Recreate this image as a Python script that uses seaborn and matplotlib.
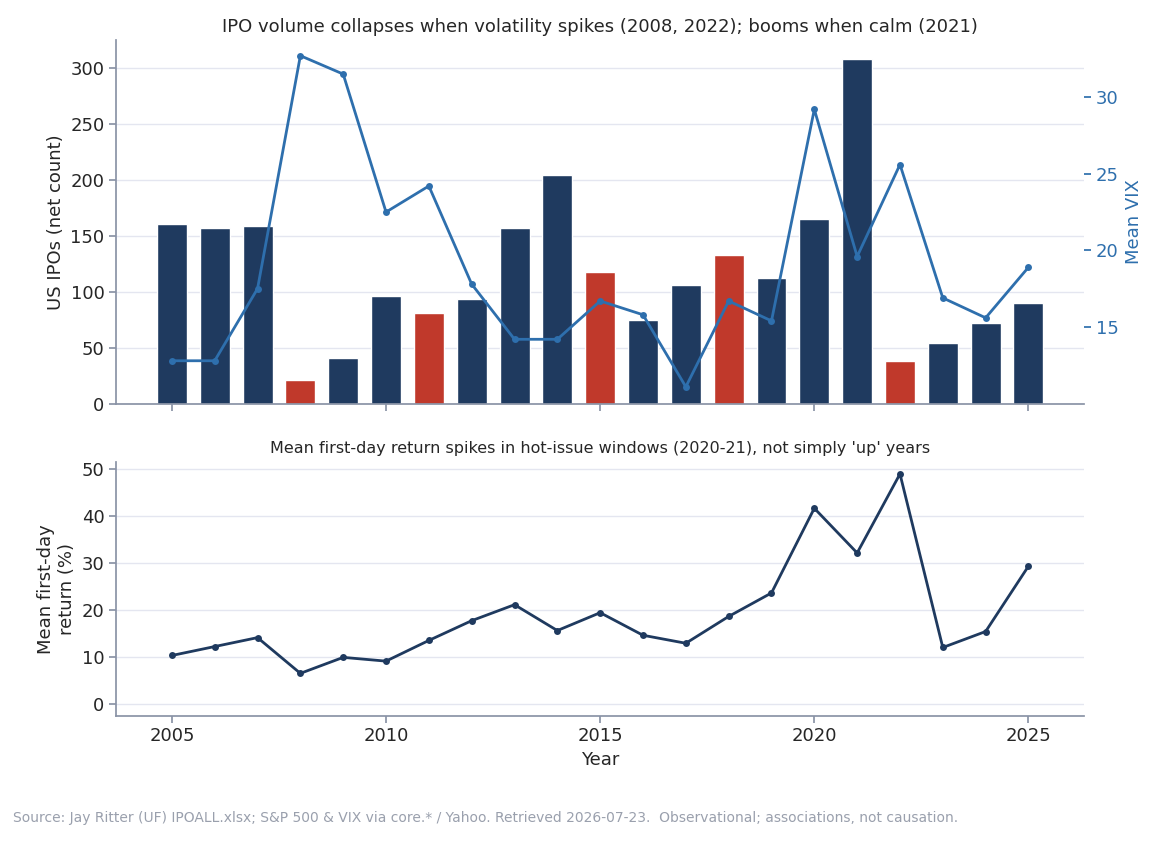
import matplotlib
matplotlib.use("Agg")
import matplotlib.pyplot as plt
import pandas as pd
import seaborn as sns

sns.set_theme(style="white")
plt.rcParams['font.family'] = 'DejaVu Sans'

years = list(range(2005, 2026))
ipos = [161, 157, 159, 21, 41, 96, 81, 94, 157, 205, 118, 75, 106, 133, 112, 165, 308, 38, 54, 72, 90]
down_years = [2008, 2011, 2015, 2018, 2022]
vix = [12.8, 12.8, 17.5, 32.7, 31.5, 22.5, 24.2, 17.8, 14.2, 14.2, 16.7, 15.8, 11.1, 16.7, 15.4,
       29.2, 19.6, 25.6, 16.9, 15.6, 18.9]
first_day = [10.3, 12.2, 14.1, 6.5, 9.9, 9.1, 13.5, 17.7, 21.1, 15.6, 19.4, 14.6, 12.9, 18.6, 23.6,
             41.6, 32.1, 48.9, 12.0, 15.4, 29.3]

NAVY = "#1f3a5f"
RED = "#c0392b"
BLUE = "#2e6fad"
GRID = "#e4e6f0"
SPINE = "#8a93a6"

df = pd.DataFrame({"Year": years, "IPOs": ipos, "VIX": vix, "FirstDay": first_day})
df["Down"] = df["Year"].isin(down_years)

fig = plt.figure(figsize=(11.62, 8.41), dpi=100)
ax1 = fig.add_axes([0.1, 0.52, 0.833, 0.432])
ax3 = fig.add_axes([0.1, 0.149, 0.833, 0.302], sharex=ax1)

colors = [RED if d else NAVY for d in df["Down"]]
ax1.bar(df["Year"], df["IPOs"], width=0.7, color=colors, zorder=2)
ax1.set_ylim(0, 325)
ax1.set_ylabel("US IPOs (net count)", fontsize=13)
ax1.set_title("IPO volume collapses when volatility spikes (2008, 2022); booms when calm (2021)", fontsize=13)
ax1.yaxis.grid(True, color=GRID, zorder=0)
ax1.tick_params(axis='x', labelbottom=False, bottom=True, length=5, color=SPINE)
ax1.tick_params(axis='y', labelsize=13, left=True, length=5, color=SPINE)

ax2 = ax1.twinx()
sns.lineplot(data=df, x="Year", y="VIX", ax=ax2, color=BLUE, marker="o", markersize=5,
             markeredgewidth=0, linewidth=2)
ax2.set_ylim(10.0, 33.7)
ax2.set_yticks([15, 20, 25, 30])
ax2.set_ylabel("Mean VIX", color=BLUE, fontsize=13)
ax2.tick_params(axis='y', colors=BLUE, labelsize=13, right=True, length=5)
ax2.set_xlabel("")

sns.lineplot(data=df, x="Year", y="FirstDay", ax=ax3, color=NAVY, marker="o", markersize=5,
             markeredgewidth=0, linewidth=2)
ax3.set_ylim(-2.5, 51.5)
ax3.set_yticks([0, 10, 20, 30, 40, 50])
ax3.set_ylabel("Mean first-day\nreturn (%)", fontsize=13)
ax3.set_xlabel("Year", fontsize=13)
ax3.set_title("Mean first-day return spikes in hot-issue windows (2020-21), not simply 'up' years", fontsize=11.5)
ax3.yaxis.grid(True, color=GRID, zorder=0)
ax3.set_xticks([2005, 2010, 2015, 2020, 2025])
ax3.set_xlim(2003.7, 2026.3)
ax3.tick_params(axis='both', labelsize=13, bottom=True, left=True, length=5, color=SPINE)

for ax in (ax1, ax3):
    for s in ("top", "right"):
        ax.spines[s].set_visible(False)
    for s in ("left", "bottom"):
        ax.spines[s].set_color(SPINE)
for s in ("top", "left", "bottom", "right"):
    ax2.spines[s].set_visible(False)

fig.text(0.011, 0.022, "Source: Jay Ritter (UF) IPOALL.xlsx; S&P 500 & VIX via core.* / Yahoo. Retrieved 2026-07-23.  "
         "Observational; associations, not causation.", fontsize=10, color="#9aa0ad")

fig.savefig("out.png", dpi=100)
